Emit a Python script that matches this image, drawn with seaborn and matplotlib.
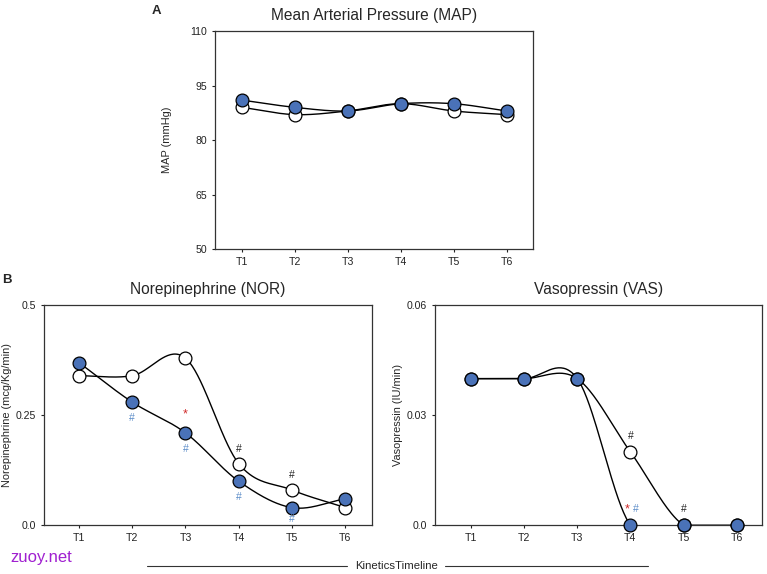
import numpy as np
import matplotlib
matplotlib.use("Agg")
import matplotlib.pyplot as plt
import seaborn as sns

# time points
timepoints = ["T1", "T2", "T3", "T4", "T5", "T6"]
tpos = [1, 2, 3, 4, 5, 6]

# panel A: mean arterial pressure (mmHg)
map_open = [89, 87, 88, 90, 88, 87]
map_filled = [91, 89, 88, 90, 90, 88]

# panel B: norepinephrine (mcg/Kg/min)
nor_open = [0.34, 0.34, 0.38, 0.14, 0.08, 0.04]
nor_filled = [0.37, 0.28, 0.21, 0.10, 0.04, 0.06]

# panel B: vasopressin (IU/min)
vas_open = [0.04, 0.04, 0.04, 0.02, 0.0, 0.0]
vas_filled = [0.04, 0.04, 0.04, 0.0, 0.0, 0.0]

# significance marks: (x, y, text, colour)
nor_marks = [(2, 0.244, "#", "blue"), (3, 0.252, "*", "red"), (3, 0.174, "#", "blue"),
             (4, 0.174, "#", "black"), (4, 0.065, "#", "blue"),
             (5, 0.114, "#", "black"), (5, 0.013, "#", "blue")]
vas_marks = [(4, 0.0243, "#", "black"), (3.93, 0.0044, "*", "red"),
             (4.1, 0.0044, "#", "blue"), (5, 0.0044, "#", "black")]

BLUE = "#4a72b8"
mark_colors = {"blue": "#5b8cc8", "red": "#d02828", "black": "#222222"}

sns.set_style("ticks")
plt.rcParams["font.family"] = ["Liberation Sans", "DejaVu Sans"]


def smooth(x, y, n=40):
    # Catmull-Rom style curve through the points, only for drawing the line
    x = np.asarray(x, float)
    y = np.asarray(y, float)
    m = np.gradient(y, x)
    xs, ys = [], []
    for i in range(len(x) - 1):
        t = np.linspace(0, 1, n)
        h = x[i + 1] - x[i]
        h00 = 2 * t**3 - 3 * t**2 + 1
        h10 = t**3 - 2 * t**2 + t
        h01 = -2 * t**3 + 3 * t**2
        h11 = t**3 - t**2
        xs.append(x[i] + t * h)
        ys.append(h00 * y[i] + h10 * h * m[i] + h01 * y[i + 1] + h11 * h * m[i + 1])
    return np.concatenate(xs), np.concatenate(ys)


def draw_panel(ax, open_vals, filled_vals, title, ylabel, yticks, yticklabels, xlim, lpad):
    for vals, face in [(open_vals, "white"), (filled_vals, BLUE)]:
        xs, ys = smooth(tpos, vals)
        sns.lineplot(x=xs, y=ys, ax=ax, color="black", lw=1.0, sort=False,
                     estimator=None, zorder=2)
        sns.scatterplot(x=tpos, y=vals, ax=ax, color=face, edgecolor="black",
                        linewidth=0.9, s=85, zorder=3, clip_on=False)
    ax.set_xlim(*xlim)
    ax.set_ylim(yticks[0], yticks[-1])
    ax.set_xticks(tpos)
    ax.set_xticklabels(timepoints)
    ax.set_yticks(yticks)
    ax.set_yticklabels(yticklabels)
    ax.set_title(title, fontsize=11.2, pad=8)
    ax.set_ylabel(ylabel, fontsize=7.9, labelpad=lpad)
    ax.tick_params(labelsize=7.6, length=2.5, width=0.8, colors="#222222", pad=3)
    for sp in ax.spines.values():
        sp.set_visible(True)
        sp.set_linewidth(0.9)
        sp.set_color("#333333")


fig = plt.figure(figsize=(7.67, 5.74), dpi=100)
axA = fig.add_axes([0.280, 0.566, 0.415, 0.380])
axN = fig.add_axes([0.057, 0.085, 0.428, 0.383])
axV = fig.add_axes([0.567, 0.085, 0.426, 0.383])

draw_panel(axA, map_open, map_filled, "Mean Arterial Pressure (MAP)", "MAP (mmHg)",
           [50, 65, 80, 95, 110], ["50", "65", "80", "95", "110"], (0.49, 6.5), 13)
draw_panel(axN, nor_open, nor_filled, "Norepinephrine (NOR)",
           "Norepinephrine (mcg/Kg/min)", [0, 0.25, 0.5], ["0.0", "0.25", "0.5"],
           (0.34, 6.5), 3)
draw_panel(axV, vas_open, vas_filled, "Vasopressin (VAS)", "Vasopressin (IU/min)",
           [0, 0.03, 0.06], ["0.0", "0.03", "0.06"], (0.32, 6.47), 3)

for ax, marks in [(axN, nor_marks), (axV, vas_marks)]:
    for x, y, txt, c in marks:
        fs = 9 if txt == "*" else 7.5
        ax.text(x, y, txt, ha="center", va="center", fontsize=fs, color=mark_colors[c],
                zorder=4)

fig.text(0.198, 0.980, "A", fontsize=9.5, fontweight="bold", va="center")
fig.text(0.003, 0.513, "B", fontsize=9.5, fontweight="bold", va="center")

# timeline label under the two lower panels
fig.add_artist(plt.Line2D([0.192, 0.452], [0.014, 0.014], color="#333333", lw=0.8))
fig.add_artist(plt.Line2D([0.580, 0.845], [0.014, 0.014], color="#333333", lw=0.8))
fig.text(0.517, 0.014, "KineticsTimeline", fontsize=8.2, ha="center", va="center")
fig.text(0.013, 0.028, "zuoy.net", fontsize=12, color="#a020d0", va="center")

fig.savefig("out.png", dpi=100)
